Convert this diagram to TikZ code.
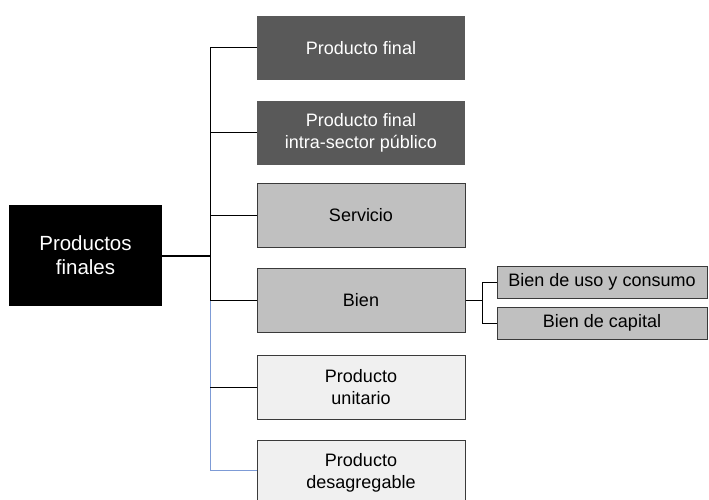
\documentclass[tikz,border=0pt]{standalone}
\usepackage{fontspec}
\setmainfont{Liberation Sans}
\definecolor{darkbox}{HTML}{595959}
\definecolor{midbox}{HTML}{C0C0C0}
\definecolor{lightbox}{HTML}{F0F0F0}
\definecolor{bordergray}{HTML}{3A3A3A}
\definecolor{linkblue}{HTML}{7D9BD6}
\tikzset{
  basebox/.style={rectangle, inner sep=0pt, minimum width=208pt, minimum height=64pt, align=center,
    font=\fontsize{18}{22}\selectfont},
  darkstyle/.style={basebox, fill=darkbox, text=white},
  midstyle/.style={basebox, fill=midbox, draw=bordergray, line width=1pt},
  lightstyle/.style={basebox, fill=lightbox, draw=bordergray, line width=1pt},
  subbox/.style={rectangle, inner sep=0pt, minimum width=210pt, minimum height=32pt, fill=midbox,
    draw=bordergray, line width=1pt, font=\fontsize{18}{22}\selectfont},
  rootstyle/.style={rectangle, inner sep=0pt, minimum width=153pt, minimum height=101pt, fill=black,
    text=white, align=center, font=\fontsize{20.5}{24}\selectfont},
  link/.style={draw=black, line width=1pt},
  bluelink/.style={draw=linkblue, line width=1pt}
}
\begin{document}
\begin{tikzpicture}[x=1pt,y=-1pt]
\clip (0,0) rectangle (709,500);
\fill[white] (0,0) rectangle (709,500);
\node[rootstyle] (root) at (85.5,255.5) {Productos\\finales};
\node[darkstyle] (pf) at (361,48) {Producto final};
\node[darkstyle] (pfi) at (361,133) {Producto final\\intra-sector público};
\node[midstyle] (serv) at (361,215) {Servicio};
\node[midstyle] (bien) at (361,300) {Bien};
\node[lightstyle] (uni) at (361,387) {Producto\\unitario};
\node[lightstyle, minimum height=66pt] (desag) at (361,473) {Producto\\desagregable};
\node[subbox] (uso) at (602,282) {Bien de uso y consumo};
\node[subbox] (cap) at (602,323) {Bien de capital};
\coordinate (tA) at (210,48);
\coordinate (tJ) at (210,256);
\coordinate (tB) at (210,300);
\coordinate (tC) at (210,470);
\coordinate (sJ) at (482,300);
% trunk
\draw[link] (tA) -- (tB);
\draw[bluelink] (tB) -- (tC);
\draw[link, line width=2pt] (root.east |- tJ) -- (tJ);
\draw[link] (tA) -- (pf.west);
\draw[link] (tA |- pfi.west) -- (pfi.west);
\draw[link] (tA |- serv.west) -- (serv.west);
\draw[link] (tB) -- (bien.west);
\draw[link] (tA |- uni.west) -- (uni.west);
\draw[bluelink] (tC) -- (desag.west |- tC);
% sub branches
\draw[link] (bien.east) -- (sJ);
\draw[link] (sJ |- uso.west) -- (sJ |- cap.west);
\draw[link] (sJ |- uso.west) -- (uso.west);
\draw[link] (sJ |- cap.west) -- (cap.west);
\end{tikzpicture}
\end{document}
